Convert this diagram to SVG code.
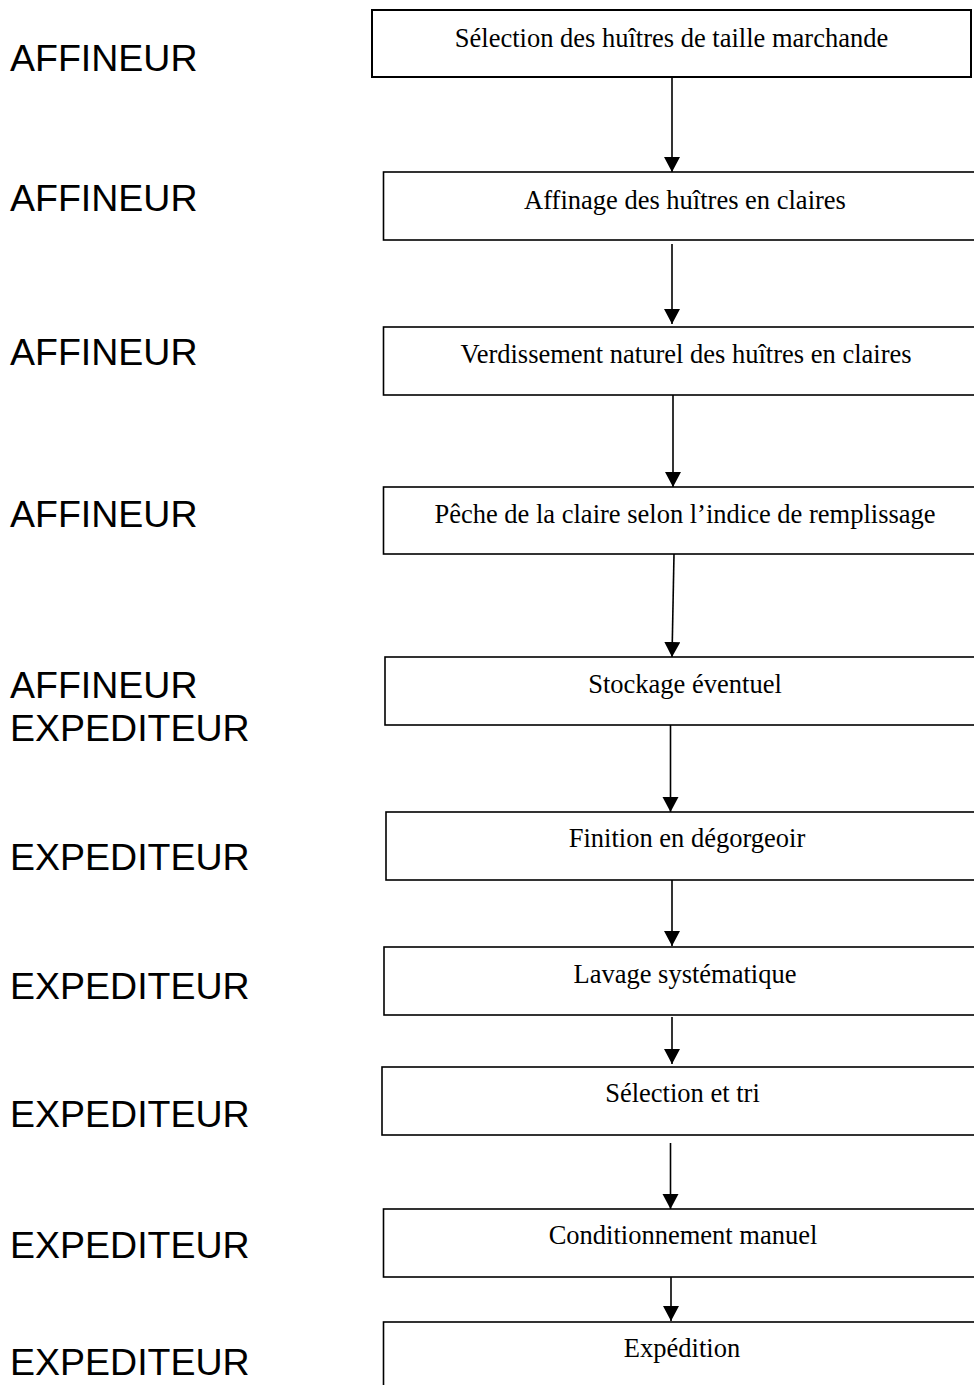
<svg xmlns="http://www.w3.org/2000/svg" width="974" height="1385" viewBox="0 0 974 1385">
<style>
.box{fill:#fff;stroke:#000;stroke-width:1.6}
.t{font-family:"Liberation Serif","Times New Roman",serif;font-size:26.5px;fill:#000;text-anchor:middle}
.role{font-family:"Liberation Sans",Arial,sans-serif;font-size:37.5px;fill:#000}
.c{stroke:#000;stroke-width:1.6;fill:none;marker-end:url(#ah)}
</style>
<defs>
<marker id="ah" markerUnits="userSpaceOnUse" markerWidth="17" markerHeight="17" refX="15" refY="8" orient="auto">
<path d="M0,0 L15,8 L0,16 z" fill="#000"/>
</marker>
</defs>
<rect width="974" height="1385" fill="#fff"/>
<g id="roles">
<text class="role" x="10" y="71">AFFINEUR</text>
<text class="role" x="10" y="211">AFFINEUR</text>
<text class="role" x="10" y="365">AFFINEUR</text>
<text class="role" x="10" y="527">AFFINEUR</text>
<text class="role" x="10" y="698">AFFINEUR</text>
<text class="role" x="10" y="741">EXPEDITEUR</text>
<text class="role" x="10" y="870">EXPEDITEUR</text>
<text class="role" x="10" y="999">EXPEDITEUR</text>
<text class="role" x="10" y="1127">EXPEDITEUR</text>
<text class="role" x="10" y="1258">EXPEDITEUR</text>
<text class="role" x="10" y="1375">EXPEDITEUR</text>
</g>
<g id="connectors">
<path class="c" d="M672,77 L672,172"/>
<path class="c" d="M672,244 L672,324"/>
<path class="c" d="M673,392 L673,487"/>
<path class="c" d="M674,554 L672,657"/>
<path class="c" d="M670.5,725 L670.5,812"/>
<path class="c" d="M672,877 L672,946"/>
<path class="c" d="M672,1017 L672,1064"/>
<path class="c" d="M670.5,1143 L670.5,1209"/>
<path class="c" d="M671,1273 L671,1321"/>
</g>
<g id="n1"><rect class="box" x="372" y="10" width="599" height="67" style="stroke-width:2"/><text class="t" x="671.5" y="47">Sélection des huîtres de taille marchande</text></g>
<g id="n2"><rect class="box" x="383.5" y="172" width="610" height="68"/><text class="t" x="685" y="209">Affinage des huîtres en claires</text></g>
<g id="n3"><rect class="box" x="383.5" y="327" width="610" height="68"/><text class="t" x="686" y="363">Verdissement naturel des huîtres en claires</text></g>
<g id="n4"><rect class="box" x="383.5" y="487" width="610" height="67"/><text class="t" x="685" y="523">Pêche de la claire selon l’indice de remplissage</text></g>
<g id="n5"><rect class="box" x="385" y="657" width="610" height="68"/><text class="t" x="685" y="693">Stockage éventuel</text></g>
<g id="n6"><rect class="box" x="386" y="812" width="610" height="68"/><text class="t" x="687" y="847">Finition en dégorgeoir</text></g>
<g id="n7"><rect class="box" x="384" y="947" width="610" height="68"/><text class="t" x="685" y="983">Lavage systématique</text></g>
<g id="n8"><rect class="box" x="382" y="1067" width="610" height="68"/><text class="t" x="682.5" y="1102">Sélection et tri</text></g>
<g id="n9"><rect class="box" x="383.5" y="1209" width="610" height="68"/><text class="t" x="683" y="1244">Conditionnement manuel</text></g>
<g id="n10"><rect class="box" x="383.5" y="1322" width="610" height="80"/><text class="t" x="682" y="1357">Expédition</text></g>
</svg>
